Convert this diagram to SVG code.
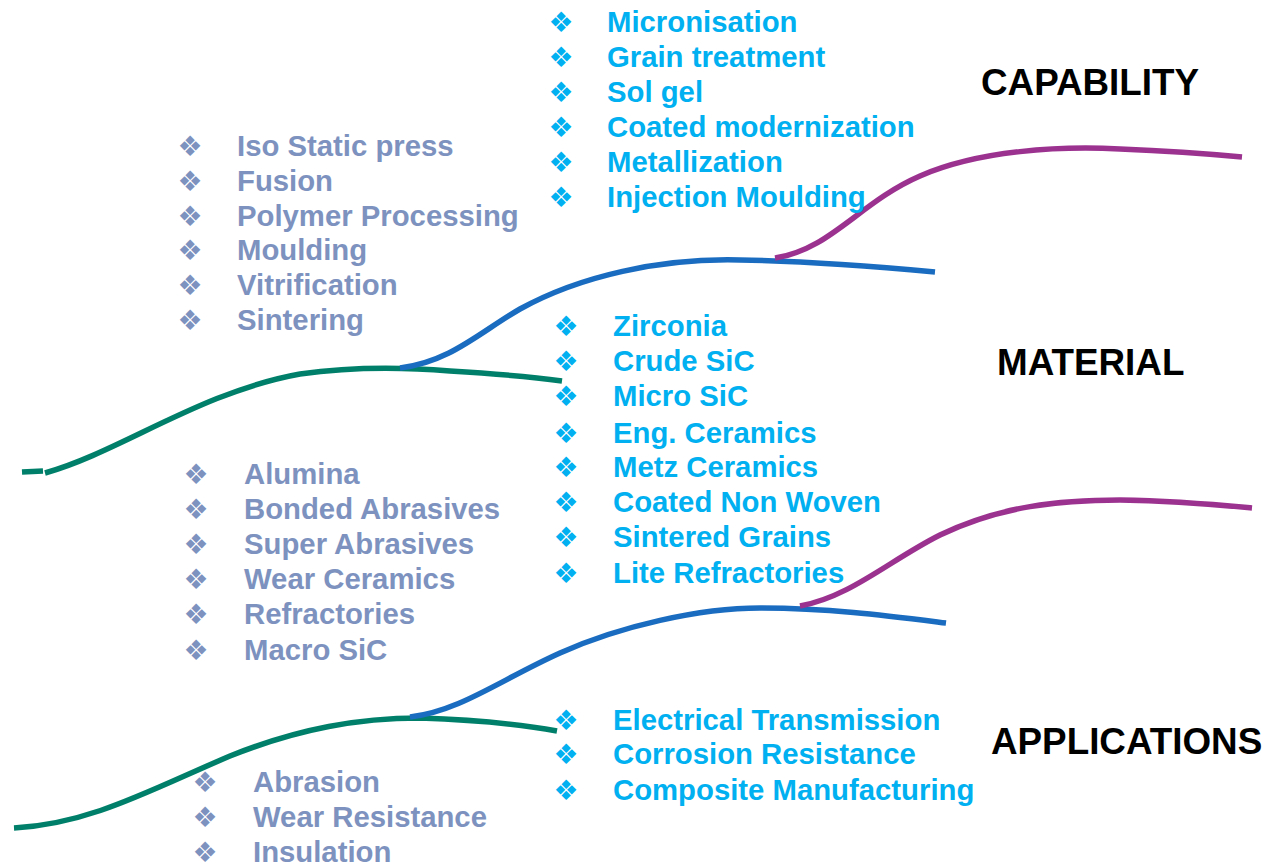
<svg xmlns="http://www.w3.org/2000/svg" width="1262" height="867" viewBox="0 0 1262 867">
<style>
.t{font-family:"Liberation Sans",Arial,sans-serif;font-weight:bold;font-size:29.3px}
.g{fill:#7d92bf}
.c{fill:#00b0f0}
.b{font-family:"DejaVu Sans",sans-serif;font-size:28px;text-anchor:middle}
.h{font-family:"Liberation Sans",Arial,sans-serif;font-weight:bold;font-size:36.8px;fill:#000}
.ln{fill:none;stroke-width:5.5;stroke-linecap:butt}
.gr{stroke:#00806a}
.bl{stroke:#1a6cc0}
.pu{stroke:#9c3290}
</style>
<rect width="1262" height="867" fill="#fff"/>
<g id="connectors">
<path class="ln gr" d="M22,472 L43,471"/>
<path class="ln gr" d="M45,473 C120,452 200,392 300,374 C350,367 400,367 450,371 C500,374 540,378 562,381"/>
<path class="ln bl" d="M400,368 C450,362 480,332 520,309 C580,276 660,258 740,260 C800,261 870,266 935,272"/>
<path class="ln pu" d="M775,258 C830,250 860,202 920,176 C980,150 1060,146 1120,149 C1170,151 1210,154 1242,157"/>
<path class="ln gr" d="M14,828 C90,824 150,790 230,756 C300,728 360,718 420,718 C480,720 530,726 557,731"/>
<path class="ln bl" d="M410,717 C460,711 500,680 560,653 C620,626 700,608 760,608 C830,608 890,616 946,623"/>
<path class="ln pu" d="M800,606 C850,597 890,560 940,535 C1000,506 1060,500 1120,500 C1180,501 1220,505 1252,508"/>
</g>
<g id="capability-heading"><text class="h" x="981" y="95">CAPABILITY</text></g>
<g id="material-heading"><text class="h" x="997" y="375">MATERIAL</text></g>
<g id="applications-heading"><text class="h" x="991" y="754">APPLICATIONS</text></g>
<g id="capability-processes" class="c">
<text class="b" x="561" y="32">❖</text><text class="t" x="607" y="32">Micronisation</text>
<text class="b" x="561" y="67">❖</text><text class="t" x="607" y="67">Grain treatment</text>
<text class="b" x="561" y="102">❖</text><text class="t" x="607" y="102">Sol gel</text>
<text class="b" x="561" y="137">❖</text><text class="t" x="607" y="137">Coated modernization</text>
<text class="b" x="561" y="172">❖</text><text class="t" x="607" y="172">Metallization</text>
<text class="b" x="561" y="207">❖</text><text class="t" x="607" y="207">Injection Moulding</text>
</g>
<g id="base-processes" class="g">
<text class="b" x="190" y="156">❖</text><text class="t" x="237" y="156">Iso Static press</text>
<text class="b" x="190" y="191">❖</text><text class="t" x="237" y="191">Fusion</text>
<text class="b" x="190" y="226">❖</text><text class="t" x="237" y="226">Polymer Processing</text>
<text class="b" x="190" y="260">❖</text><text class="t" x="237" y="260">Moulding</text>
<text class="b" x="190" y="295">❖</text><text class="t" x="237" y="295">Vitrification</text>
<text class="b" x="190" y="330">❖</text><text class="t" x="237" y="330">Sintering</text>
</g>
<g id="base-materials" class="g">
<text class="b" x="196" y="484">❖</text><text class="t" x="244" y="484">Alumina</text>
<text class="b" x="196" y="519">❖</text><text class="t" x="244" y="519">Bonded Abrasives</text>
<text class="b" x="196" y="554">❖</text><text class="t" x="244" y="554">Super Abrasives</text>
<text class="b" x="196" y="589">❖</text><text class="t" x="244" y="589">Wear Ceramics</text>
<text class="b" x="196" y="624">❖</text><text class="t" x="244" y="624">Refractories</text>
<text class="b" x="196" y="660">❖</text><text class="t" x="244" y="660">Macro SiC</text>
</g>
<g id="advanced-materials" class="c">
<text class="b" x="566" y="336">❖</text><text class="t" x="613" y="336">Zirconia</text>
<text class="b" x="566" y="371">❖</text><text class="t" x="613" y="371">Crude SiC</text>
<text class="b" x="566" y="406">❖</text><text class="t" x="613" y="406">Micro SiC</text>
<text class="b" x="566" y="443">❖</text><text class="t" x="613" y="443">Eng. Ceramics</text>
<text class="b" x="566" y="477">❖</text><text class="t" x="613" y="477">Metz Ceramics</text>
<text class="b" x="566" y="512">❖</text><text class="t" x="613" y="512">Coated Non Woven</text>
<text class="b" x="566" y="547">❖</text><text class="t" x="613" y="547">Sintered Grains</text>
<text class="b" x="566" y="583">❖</text><text class="t" x="613" y="583">Lite Refractories</text>
</g>
<g id="advanced-applications" class="c">
<text class="b" x="566" y="730">❖</text><text class="t" x="613" y="730">Electrical Transmission</text>
<text class="b" x="566" y="764">❖</text><text class="t" x="613" y="764">Corrosion Resistance</text>
<text class="b" x="566" y="800">❖</text><text class="t" x="613" y="800">Composite Manufacturing</text>
</g>
<g id="base-applications" class="g">
<text class="b" x="205" y="792">❖</text><text class="t" x="253" y="792">Abrasion</text>
<text class="b" x="205" y="827">❖</text><text class="t" x="253" y="827">Wear Resistance</text>
<text class="b" x="205" y="862">❖</text><text class="t" x="253" y="862">Insulation</text>
</g>
</svg>
